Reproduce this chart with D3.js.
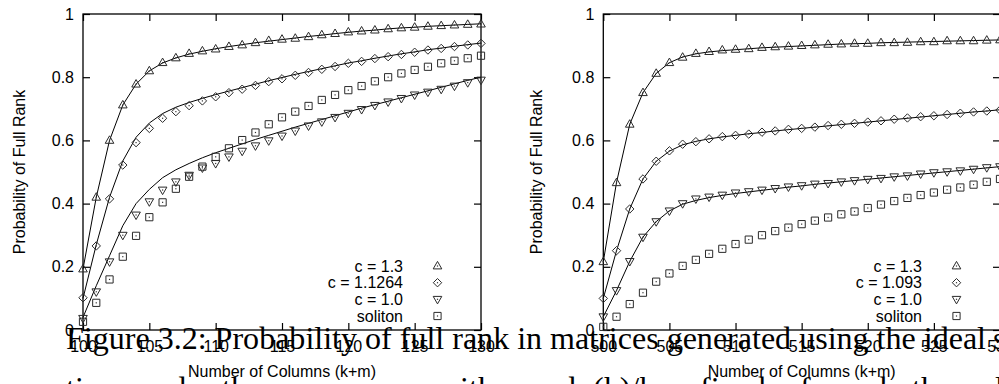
<!DOCTYPE html>
<html>
<head>
<meta charset="utf-8">
<script src="https://cdn.jsdelivr.net/npm/d3@7"></script>
<style>
  html, body { margin: 0; padding: 0; background: #fff; overflow: hidden; }
  svg { display: block; }
  .sans { font-family: "Liberation Sans", Arial, Helvetica, sans-serif; font-size: 16px; fill: #000; }
  .serif { font-family: "Liberation Serif", "Times New Roman", serif; font-size: 32px; fill: #000; }
</style>
</head>
<body>
<svg id="chart" width="999" height="384"></svg>
<script>
// ---- k = 100 panel ----
const colsK100 = [100,101,102,103,104,105,106,107,108,109,110,111,112,113,114,115,116,117,118,119,120,121,122,123,124,125,126,127,128,129,130];
const simK100_c13    = [0.193,0.42,0.60,0.712,0.778,0.82,0.846,0.861,0.875,0.883,0.889,0.897,0.902,0.909,0.916,0.92,0.923,0.928,0.934,0.938,0.943,0.946,0.949,0.953,0.956,0.958,0.961,0.963,0.965,0.967,0.968];
const simK100_c11264 = [0.102,0.266,0.415,0.522,0.593,0.638,0.67,0.691,0.71,0.725,0.738,0.751,0.762,0.774,0.786,0.795,0.806,0.815,0.825,0.834,0.844,0.85,0.859,0.865,0.872,0.879,0.886,0.891,0.897,0.902,0.907];
const simK100_c10    = [0.037,0.121,0.216,0.30,0.364,0.406,0.443,0.469,0.49,0.513,0.527,0.548,0.566,0.583,0.599,0.614,0.63,0.646,0.659,0.673,0.686,0.698,0.711,0.722,0.733,0.744,0.753,0.762,0.772,0.783,0.791];
const simK100_soliton= [0.026,0.086,0.16,0.232,0.298,0.357,0.404,0.447,0.485,0.517,0.548,0.575,0.601,0.625,0.651,0.673,0.691,0.709,0.728,0.744,0.759,0.772,0.787,0.80,0.812,0.823,0.833,0.844,0.852,0.86,0.868];
const fitK100_c13    = [0.193,0.42,0.60,0.712,0.778,0.82,0.845,0.861,0.873,0.882,0.89,0.897,0.903,0.909,0.914,0.919,0.924,0.929,0.933,0.938,0.942,0.946,0.949,0.953,0.956,0.958,0.961,0.963,0.965,0.967,0.969];
const fitK100_c11264 = [0.10,0.27,0.42,0.535,0.61,0.655,0.685,0.705,0.72,0.733,0.745,0.756,0.767,0.778,0.789,0.799,0.809,0.818,0.827,0.836,0.845,0.852,0.86,0.867,0.874,0.88,0.887,0.892,0.898,0.903,0.908];
const fitK100_c10    = [0.04,0.14,0.235,0.33,0.40,0.445,0.482,0.507,0.527,0.545,0.561,0.575,0.589,0.603,0.616,0.629,0.642,0.654,0.666,0.678,0.69,0.702,0.713,0.724,0.735,0.746,0.757,0.768,0.779,0.79,0.80];
const xTicksK100 = [100,105,110,115,120,125,130];
const legendK100 = ["c = 1.3", "c = 1.1264", "c = 1.0", "soliton"];

// ---- k = 500 panel ----
const colsK500 = [500,501,502,503,504,505,506,507,508,509,510,511,512,513,514,515,516,517,518,519,520,521,522,523,524,525,526,527,528,529,530];
const simK500_c13    = [0.216,0.466,0.651,0.751,0.812,0.846,0.863,0.875,0.881,0.886,0.888,0.89,0.894,0.896,0.898,0.90,0.902,0.904,0.905,0.907,0.907,0.909,0.909,0.91,0.912,0.912,0.915,0.915,0.915,0.917,0.918];
const simK500_c1093  = [0.10,0.251,0.383,0.478,0.534,0.567,0.588,0.596,0.605,0.612,0.616,0.62,0.626,0.63,0.635,0.638,0.642,0.647,0.651,0.654,0.658,0.662,0.667,0.671,0.675,0.678,0.682,0.686,0.69,0.693,0.696];
const simK500_c10    = [0.042,0.125,0.217,0.294,0.343,0.377,0.40,0.415,0.421,0.427,0.434,0.438,0.443,0.448,0.453,0.457,0.462,0.464,0.469,0.473,0.477,0.48,0.485,0.488,0.494,0.498,0.501,0.504,0.509,0.514,0.517];
const simK500_soliton= [0.01,0.042,0.082,0.118,0.153,0.179,0.203,0.222,0.241,0.257,0.272,0.286,0.30,0.313,0.324,0.335,0.346,0.356,0.366,0.375,0.386,0.397,0.408,0.418,0.427,0.435,0.444,0.451,0.46,0.469,0.478];
const fitK500_c13    = [0.216,0.467,0.651,0.751,0.812,0.846,0.864,0.874,0.88,0.884,0.887,0.89,0.893,0.895,0.897,0.899,0.901,0.903,0.905,0.906,0.907,0.909,0.91,0.911,0.912,0.913,0.914,0.915,0.916,0.917,0.918];
const fitK500_c1093  = [0.10,0.251,0.383,0.478,0.534,0.566,0.586,0.597,0.605,0.611,0.616,0.621,0.625,0.63,0.634,0.638,0.642,0.646,0.65,0.654,0.658,0.662,0.666,0.67,0.674,0.678,0.682,0.686,0.69,0.693,0.697];
const fitK500_c10    = [0.042,0.125,0.217,0.294,0.343,0.377,0.398,0.41,0.419,0.426,0.432,0.437,0.442,0.447,0.452,0.456,0.461,0.465,0.469,0.473,0.477,0.481,0.485,0.489,0.493,0.497,0.501,0.505,0.509,0.513,0.517];
const xTicksK500 = [500,505,510,515,520,525,530];
const legendK500 = ["c = 1.3", "c = 1.093", "c = 1.0", "soliton"];

const yTicks = [0, 0.2, 0.4, 0.6, 0.8, 1];
const yTickLabels = ["0", "0.2", "0.4", "0.6", "0.8", "1"];
const xTitle = "Number of Columns (k+m)";
const yTitle = "Probability of Full Rank";

const captionLine1 = "Figure 3.2: Probability of full rank in matrices generated using the ideal";
const captionLine1Tail = "soliton";
const captionLine2 = [["tion", 66], ["and", 140], ["the", 222], ["same", 290], ["case,", 370], ["with", 437], ["d", 560], ["(k)/k", 593], ["fixed", 700], ["for", 800], ["both", 880], ["l", 995]];

// ---- point shapes (open, with a centre dot) ----
const shapes = {
  triUp:   "M0,-4.6L4.3,2.9L-4.3,2.9Z",
  diamond: "M0,-4.2L4.2,0L0,4.2L-4.2,0Z",
  triDown: "M0,4.6L4.3,-2.9L-4.3,-2.9Z",
  square:  "M-3.6,-3.6H3.6V3.6H-3.6Z"
};

const svg = d3.select("#chart");
const TOP = 14, BOTTOM = 330, TICK = 7;

function drawPoints(g, x, y, xs, vs, shape) {
  const pts = g.append("g").selectAll("g").data(xs.map((c, i) => [c, vs[i]])).join("g")
    .attr("transform", d => `translate(${x(d[0])},${y(d[1])})`);
  pts.append("path").attr("d", shapes[shape]).attr("fill", "none")
    .attr("stroke", "#2a2a2a").attr("stroke-width", 1);
  pts.append("rect").attr("x", -0.6).attr("y", -0.6).attr("width", 1.2).attr("height", 1.2).attr("fill", "#333");
}

function drawLine(g, x, y, xs, vs) {
  const line = d3.line().x((d, i) => x(xs[i])).y(d => y(d));
  g.append("path").datum(vs).attr("d", line).attr("fill", "none")
    .attr("stroke", "#000").attr("stroke-width", 1);
}

function panel(p) {
  const g = svg.append("g");
  const x = d3.scaleLinear().domain([p.cols[0], p.cols[p.cols.length - 1]]).range([p.left, p.right]);
  const y = d3.scaleLinear().domain([0, 1]).range([BOTTOM, TOP]);

  // axes: ticks point inward and are mirrored on top / right
  const ax = [
    g.append("g").attr("transform", `translate(0,${BOTTOM})`)
      .call(d3.axisBottom(x).tickValues(p.xTicks).tickSize(-TICK).tickPadding(10.5).tickFormat(d3.format("d"))),
    g.append("g").attr("transform", `translate(0,${TOP})`)
      .call(d3.axisTop(x).tickValues(p.xTicks).tickSize(-TICK).tickFormat("")),
    g.append("g").attr("transform", `translate(${p.left},0)`)
      .call(d3.axisLeft(y).tickValues(yTicks).tickSize(-TICK).tickPadding(9).tickFormat((d, i) => yTickLabels[i])),
    g.append("g").attr("transform", `translate(${p.right},0)`)
      .call(d3.axisRight(y).tickValues(yTicks).tickSize(-TICK).tickFormat(""))
  ];
  ax.forEach(a => {
    a.select(".domain").remove();
    a.selectAll(".tick line").attr("stroke", "#000").attr("stroke-width", 1.2);
    a.selectAll(".tick text").attr("class", "sans").attr("font-family", null).attr("font-size", null).attr("fill", "#000");
  });

  // frame
  g.append("rect").attr("x", p.left).attr("y", TOP).attr("width", p.right - p.left).attr("height", BOTTOM - TOP)
    .attr("fill", "none").attr("stroke", "#000").attr("stroke-width", 1.3);

  // fitted curves
  p.fits.forEach(f => drawLine(g, x, y, p.cols, f));
  // measured points
  p.sims.forEach((s, i) => drawPoints(g, x, y, p.cols, s, p.shapeOrder[i]));

  // legend
  const rowY = [266, 282.7, 299.3, 316];
  const lg = g.append("g");
  p.legend.forEach((lab, i) => {
    lg.append("text").attr("class", "sans").attr("x", p.right - 78).attr("y", rowY[i]).attr("dy", "0.35em")
      .attr("text-anchor", "end").text(lab);
    const s = lg.append("g").attr("transform", `translate(${p.right - 43.5},${rowY[i]})`);
    s.append("path").attr("d", shapes[p.shapeOrder[i]]).attr("fill", "none").attr("stroke", "#2a2a2a").attr("stroke-width", 1);
    s.append("rect").attr("x", -0.6).attr("y", -0.6).attr("width", 1.2).attr("height", 1.2).attr("fill", "#333");
  });

  // axis titles
  g.append("text").attr("class", "sans").attr("x", (p.left + p.right) / 2).attr("y", 377)
    .attr("text-anchor", "middle").text(xTitle);
  g.append("text").attr("class", "sans").attr("text-anchor", "middle")
    .attr("transform", `translate(${p.yTitleX},${(TOP + BOTTOM) / 2}) rotate(-90)`).text(yTitle);
}

panel({
  cols: colsK100, left: 83, right: 481, xTicks: xTicksK100, yTitleX: 25,
  sims: [simK100_c13, simK100_c11264, simK100_c10, simK100_soliton],
  fits: [fitK100_c13, fitK100_c11264, fitK100_c10],
  shapeOrder: ["triUp", "diamond", "triDown", "square"],
  legend: legendK100
});

panel({
  cols: colsK500, left: 603.3, right: 1000, xTicks: xTicksK500, yTitleX: 541.7,
  sims: [simK500_c13, simK500_c1093, simK500_c10, simK500_soliton],
  fits: [fitK500_c13, fitK500_c1093, fitK500_c10],
  shapeOrder: ["triUp", "diamond", "triDown", "square"],
  legend: legendK500
});

// caption set over the figure
const cap = svg.append("g");
cap.append("text").attr("class", "serif").attr("x", 66).attr("y", 349)
  .attr("textLength", 920).attr("lengthAdjust", "spacingAndGlyphs").text(captionLine1);
cap.append("text").attr("class", "serif").attr("x", 993).attr("y", 349).text(captionLine1Tail);
captionLine2.forEach(([w, px]) => {
  cap.append("text").attr("class", "serif").attr("x", px).attr("y", 399).text(w);
});
</script>
</body>
</html>
